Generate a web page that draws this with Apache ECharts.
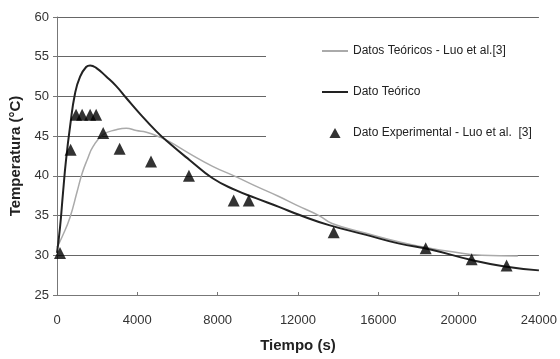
<!DOCTYPE html>
<html>
<head>
<meta charset="utf-8">
<script src="https://cdn.jsdelivr.net/npm/echarts@6/dist/echarts.min.js"></script>
<style>
  html, body { margin: 0; padding: 0; background: #fff; }
  #chart { width: 560px; height: 359px; }
</style>
</head>
<body>
<div id="chart"></div>
<script>
// Datos Teóricos - Luo et al.[3]  (tiempo s, temperatura °C)
const luoTeorico = [
  [0, 31.0], [250, 32.3], [650, 34.8], [1000, 38.0], [1250, 40.3], [1500, 42.0],
  [1800, 43.7], [2300, 45.2], [2950, 45.8], [3450, 46.0], [3950, 45.7], [4450, 45.5],
  [5100, 44.9], [5600, 44.3], [6600, 42.8], [7750, 41.2], [8900, 39.9], [9900, 38.7],
  [11050, 37.4], [11900, 36.35], [13050, 35.0], [13700, 34.0], [15350, 32.8],
  [17000, 31.7], [18350, 31.0], [19500, 30.5], [21150, 30.0], [22950, 29.9]
];
// Dato Teórico
const datoTeorico = [
  [0, 30.3], [150, 33.5], [300, 37.9], [450, 42.0], [650, 46.2], [900, 50.4],
  [1150, 52.5], [1450, 53.7], [1650, 53.9], [1950, 53.6], [2450, 52.5], [2950, 51.3],
  [3450, 49.8], [4100, 47.9], [4950, 45.6], [5600, 44.1], [6600, 42.0], [7750, 39.7],
  [8900, 38.2], [9900, 37.2], [11050, 36.1], [12050, 35.1], [13550, 33.8],
  [15350, 32.6], [17000, 31.5], [18650, 30.7], [20650, 29.4], [22300, 28.6], [24000, 28.1]
];
// Dato Experimental - Luo et al. [3]
const experimental = [
  [150, 30.3], [680, 43.3], [950, 47.7], [1250, 47.7], [1650, 47.7], [1950, 47.7],
  [2300, 45.4], [3120, 43.4], [4680, 41.8], [6570, 40.0], [8800, 36.9], [9550, 36.9],
  [13780, 32.9], [18360, 30.9], [20650, 29.5], [22390, 28.7]
];

const chart = echarts.init(document.getElementById('chart'));
const font = 'Arial, "Liberation Sans", sans-serif';

chart.setOption({
  animation: false,
  textStyle: { fontFamily: font },
  grid: { left: 57, right: 19, top: 17, bottom: 64 },
  graphic: [
    // white legend box covering the gridlines
    { type: 'rect', z: 3, shape: { x: 266, y: 22, width: 280, height: 153 }, style: { fill: '#fff' } }
  ],
  legend: {
    orient: 'vertical',
    left: 316,
    top: 40,
    itemGap: 29,
    itemWidth: 26,
    itemHeight: 10,
    z: 5,
    textStyle: { fontSize: 12, color: '#222', fontFamily: font },
    data: [
      { name: 'Datos Teóricos - Luo et al.[3]', itemStyle: { opacity: 0 } },
      { name: 'Dato Teórico', itemStyle: { opacity: 0 } },
      { name: 'Dato Experimental - Luo et al.  [3]', icon: 'path://M5,0L10,9L0,9Z' }
    ]
  },
  xAxis: {
    type: 'value',
    min: 0,
    max: 24000,
    interval: 4000,
    name: 'Tiempo (s)',
    nameLocation: 'middle',
    nameGap: 43,
    nameTextStyle: { fontSize: 15, fontWeight: 'bold', color: '#222' },
    axisLine: { lineStyle: { color: '#777' } },
    axisTick: { inside: true, length: 3, lineStyle: { color: '#777' } },
    axisLabel: { fontSize: 13, color: '#333', margin: 19, formatter: v => String(v) },
    splitLine: { show: false }
  },
  yAxis: {
    type: 'value',
    min: 25,
    max: 60,
    interval: 5,
    name: 'Temperatura (°C)',
    nameLocation: 'middle',
    nameGap: 32,
    nameTextStyle: { fontSize: 15, fontWeight: 'bold', color: '#222' },
    axisLine: { show: true, lineStyle: { color: '#777' } },
    axisTick: { show: true, length: 4, lineStyle: { color: '#777' } },
    axisLabel: { fontSize: 13, color: '#333', margin: 8 },
    splitLine: { lineStyle: { color: '#666', width: 1 } }
  },
  series: [
    {
      name: 'Datos Teóricos - Luo et al.[3]',
      type: 'line',
      data: luoTeorico,
      smooth: true,
      symbol: 'none',
      z: 6,
      lineStyle: { color: '#aaa', width: 1.5 },
      itemStyle: { color: '#aaa' }
    },
    {
      name: 'Dato Teórico',
      type: 'line',
      data: datoTeorico,
      smooth: true,
      symbol: 'none',
      z: 7,
      lineStyle: { color: '#222', width: 2 },
      itemStyle: { color: '#222' }
    },
    {
      name: 'Dato Experimental - Luo et al.  [3]',
      type: 'scatter',
      data: experimental,
      symbol: 'triangle',
      symbolSize: [12, 12],
      z: 8,
      itemStyle: { color: '#000' }
    }
  ]
});
</script>
</body>
</html>
